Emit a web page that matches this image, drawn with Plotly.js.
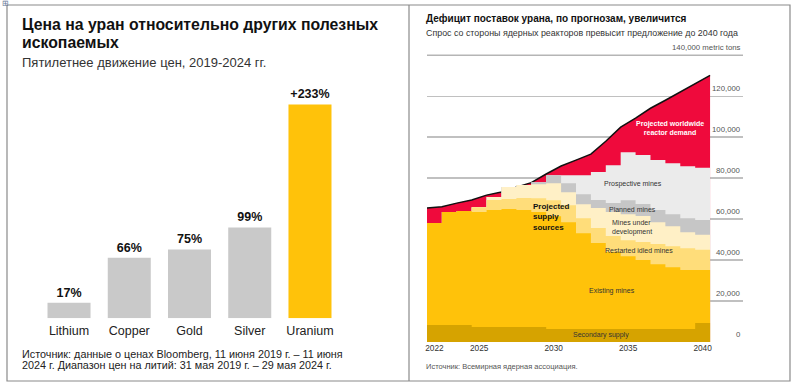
<!DOCTYPE html>
<html><head><meta charset="utf-8">
<script src="https://cdn.plot.ly/plotly-3.0.1.min.js"></script>
<style>html,body{margin:0;padding:0;background:#fff}#chart{width:800px;height:389px}</style>
</head><body><div id="chart"></div>
<script>
// ---- Left chart data ----
const metals = ['Lithium', 'Copper', 'Gold', 'Silver', 'Uranium'];
const priceChange = [17, 66, 75, 99, 233];
const priceLabels = ['17%', '66%', '75%', '99%', '+233%'];

// ---- Right chart data (metric tons) ----
const years = [2022, 2023, 2024, 2025, 2026, 2027, 2028, 2029, 2030, 2031, 2032, 2033, 2034, 2035, 2036, 2037, 2038, 2039, 2040];
const secondarySupply = [8300, 8300, 8300, 7300, 7300, 7300, 7300, 7300, 6300, 6300, 6300, 6300, 6300, 6300, 6300, 6300, 6300, 6300, 9300];
const existingMines   = [49800, 55100, 55600, 56100, 57100, 57600, 57100, 56100, 55100, 52200, 46800, 42000, 37600, 35600, 33700, 31700, 30200, 28800, 25900];
const restartedMines  = [0, 0, 0, 2400, 4900, 4900, 5900, 6800, 7800, 8300, 7300, 7300, 7800, 7800, 8800, 9800, 10200, 10700, 9800];
const minesUnderDev   = [0, 0, 0, 0, 1500, 5900, 6300, 6800, 8300, 6300, 6800, 9800, 11700, 12700, 12700, 10700, 9800, 7800, 7300];
const plannedMines    = [0, 0, 0, 0, 0, 0, 0, 1000, 3900, 4400, 4900, 3900, 4400, 6800, 5900, 5900, 5900, 6800, 7300];
const prospectiveMines= [0, 0, 0, 0, 0, 0, 0, 0, 0, 3900, 9300, 13700, 18500, 23400, 23900, 24400, 24900, 25400, 25400];
// demand read at year boundaries 2021.5 ... 2040.5
const reactorDemand = [65400, 66000, 67800, 69300, 71700, 73200, 75600, 77800, 82000, 85900, 88800, 91700, 98000, 104900, 109300, 114100, 118000, 122000, 126300, 130200];
const yearTicks = [2022, 2025, 2030, 2035, 2040];
const valueTicks = [0, 20000, 40000, 60000, 80000, 100000, 120000, 140000];
const valueTickText = ['0', '20,000', '40,000', '60,000', '80,000', '100,000', '120,000', '140,000 metric tons'];

const W = 800, H = 389;
const fx = p => p / W;
const fy = p => 1 - p / H;
const FONT = 'Liberation Sans, Arial, Helvetica, sans-serif';

// step edges (each year occupies one full-width step)
const edges = years.map(y => y - 0.5).concat([years[years.length - 1] + 0.5]);
const stepVals = arr => arr.concat([arr[arr.length - 1]]);

const layerDefs = [
  {name: 'Secondary supply', data: secondarySupply, color: '#D6A300'},
  {name: 'Existing mines', data: existingMines, color: '#FFC20A'},
  {name: 'Restarted idled mines', data: restartedMines, color: '#FFDD7A'},
  {name: 'Mines under development', data: minesUnderDev, color: '#FFF0C6'},
  {name: 'Planned mines', data: plannedMines, color: '#C6C6C6'},
  {name: 'Prospective mines', data: prospectiveMines, color: '#EBEBEB'}
];
// cumulative tops (stacking), so each layer can be filled down to zero without seams
let running = years.map(() => 0);
layerDefs.forEach(l => {
  running = running.map((v, i) => v + l.data[i]);
  l.cum = running.slice();
});

const traces = [];
traces.push({
  type: 'bar', x: metals, y: priceChange, text: priceLabels,
  textposition: 'outside', constraintext: 'none', cliponaxis: false,
  textfont: {family: FONT, size: 12.5, color: '#111', weight: 'bold'},
  marker: {color: metals.map(m => m === 'Uranium' ? '#FFC20A' : '#C9C9C9')},
  xaxis: 'x', yaxis: 'y', hoverinfo: 'skip'
});
traces.push({
  type: 'scatter', mode: 'lines', x: edges, y: reactorDemand,
  fill: 'tozeroy', fillcolor: '#EF0A3C',
  line: {color: '#111', width: 1.5},
  xaxis: 'x2', yaxis: 'y2', hoverinfo: 'skip'
});
layerDefs.slice().reverse().forEach(l => {
  traces.push({
    type: 'scatter', mode: 'lines', x: edges, y: stepVals(l.cum), name: l.name,
    fill: 'tozeroy', fillcolor: l.color,
    line: {width: 0, shape: 'hv', color: l.color},
    xaxis: 'x2', yaxis: 'y2', hoverinfo: 'skip'
  });
});

const ann = [];
function txt(text, x, y, size, color, weight) {
  ann.push({
    text: text, x: fx(x), y: fy(y), xref: 'paper', yref: 'paper',
    xanchor: 'left', yanchor: 'middle', showarrow: false,
    font: {family: FONT, size: size, color: color, weight: weight || 'normal'}
  });
}
// left texts
txt('Цена на уран относительно других полезных', 20, 25, 15.8, '#111', 'bold');
txt('ископаемых', 20, 43, 15.8, '#111', 'bold');
txt('Пятилетнее движение цен, 2019-2024 гг.', 20, 63, 13, '#333');
txt('Источник: данные о ценах Bloomberg, 11 июня 2019 г. – 11 июня', 20, 354, 10.8, '#222');
txt('2024 г. Диапазон цен на литий: 31 мая 2019 г. – 29 мая 2024 г.', 20, 365, 10.8, '#222');
// right texts
txt('Дефицит поставок урана, по прогнозам, увеличится', 424, 18, 10, '#111', 'bold');
txt('Спрос со стороны ядерных реакторов превысит предложение до 2040 года', 424, 33, 8.9, '#333');
txt('Источник: Всемирная ядерная ассоциация.', 424, 366, 7.5, '#555');
txt('⊞', 0, 4, 8, '#6a7a9a');

// y tick labels placed through the y2 scale, sitting just above each gridline
valueTicks.forEach((v, i) => {
  ann.push({
    text: valueTickText[i], x: fx(743), y: v, xref: 'paper', yref: 'y2',
    xanchor: 'right', yanchor: 'bottom', yshift: 1, showarrow: false,
    font: {family: FONT, size: 7.8, color: '#555'}
  });
});

// in-chart labels (data coordinates)
function lab(text, x, y, size, color, extra) {
  ann.push(Object.assign({
    text: text, x: x, y: y, xref: 'x2', yref: 'y2', showarrow: false,
    xanchor: 'center', yanchor: 'middle',
    font: {family: FONT, size: size, color: color}
  }, extra || {}));
}
lab('Projected worldwide<br>reactor demand', 2037.8, 104400, 7, '#fff', {font: {family: FONT, size: 7, color: '#fff', weight: 'bold'}});
lab('Prospective mines', 2035.3, 77100, 7, '#333');
lab('Planned mines', 2035.3, 64900, 7, '#333');
lab('Mines under<br>development', 2033.8, 55900, 7, '#333', {xanchor: 'left', align: 'left'});
lab('Restarted idled mines', 2035.7, 44900, 7, '#333');
lab('Existing mines', 2033.9, 24900, 7, '#333');
lab('Secondary supply', 2033.2, 3400, 7, '#333');
lab('Projected<br>supply<br>sources', 2028.5, 61000, 8, '#111', {xanchor: 'left', align: 'left', font: {family: FONT, size: 8, color: '#111', weight: 'bold'}});

const shapes = [
  {type: 'rect', xref: 'paper', yref: 'paper', x0: fx(7), x1: fx(790), y0: fy(381), y1: fy(5), line: {color: '#8a8a8a', width: 1.2}},
  {type: 'line', xref: 'paper', yref: 'paper', x0: fx(409), x1: fx(409), y0: fy(381), y1: fy(5), line: {color: '#8a8a8a', width: 1.2}},
  // top frame line of the plot (the 140,000 level)
  {type: 'line', xref: 'paper', yref: 'paper', x0: fx(427), x1: fx(743), y0: fy(55.2), y1: fy(55.2),
   line: {color: '#B5B5B5', width: 1.5}, layer: 'above'}
];

const layout = {
  width: W, height: H, margin: {l: 0, r: 0, t: 0, b: 0},
  paper_bgcolor: '#fff', plot_bgcolor: 'rgba(0,0,0,0)',
  showlegend: false, bargap: 0.286,
  font: {family: FONT},
  xaxis: {domain: [fx(38.9), fx(340.1)], type: 'category', showgrid: false, zeroline: false, showline: false,
          ticks: '', ticklabelstandoff: 3, tickfont: {family: FONT, size: 12.5, color: '#222'}, anchor: 'y', fixedrange: true},
  yaxis: {domain: [fy(318.3), fy(88.8)], range: [0, 250], visible: false, anchor: 'x', fixedrange: true},
  xaxis2: {domain: [fx(427), fx(743)], range: [2021.5, 2042.71], tickvals: yearTicks, showgrid: false, zeroline: false,
           showline: false, ticks: '', tickfont: {family: FONT, size: 8.3, color: '#333'}, anchor: 'y2', fixedrange: true},
  yaxis2: {domain: [fy(342), fy(53.97)], range: [0, 140600], side: 'right', anchor: 'x2',
           tickvals: valueTicks, showticklabels: false, showgrid: true, gridcolor: '#C0C0C0', gridwidth: 1.3,
           zeroline: false, showline: false, ticks: '', fixedrange: true},
  annotations: ann, shapes: shapes
};

Plotly.newPlot('chart', traces, layout, {staticPlot: true, displayModeBar: false});
</script>
</body></html>
